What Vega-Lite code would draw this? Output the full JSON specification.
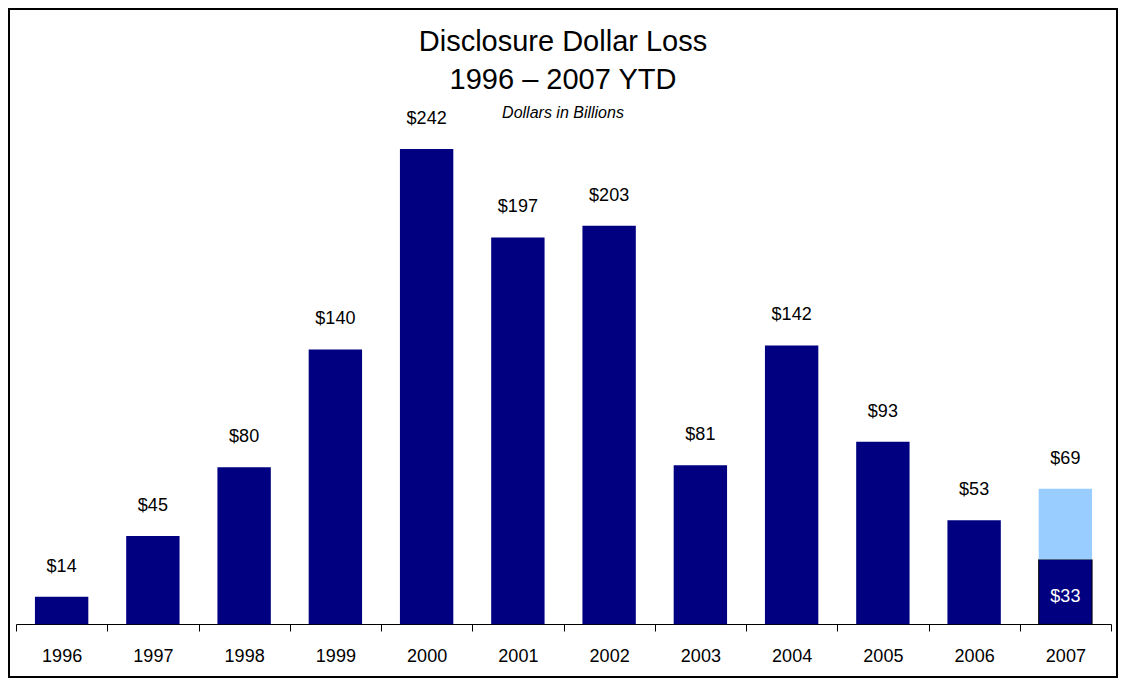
{
  "$schema": "https://vega.github.io/schema/vega-lite/v6.json",
  "width": 1108,
  "height": 668,
  "autosize": {"type": "none"},
  "padding": {"left": 9, "top": 9, "right": 4, "bottom": 4},
  "background": "white",
  "config": {
    "view": {"stroke": "black", "strokeWidth": 2},
    "font": "Liberation Sans"
  },
  "title": {
    "text": ["Disclosure Dollar Loss", "1996 – 2007 YTD"],
    "subtitle": "Dollars in Billions",
    "font": "Liberation Sans",
    "fontSize": 29,
    "fontWeight": "normal",
    "lineHeight": 38,
    "color": "black",
    "subtitleFont": "Liberation Sans",
    "subtitleFontSize": 16,
    "subtitleFontStyle": "italic",
    "subtitleColor": "black",
    "subtitlePadding": 10,
    "anchor": "middle",
    "frame": "group",
    "offset": -112
  },
  "datasets": {
    "bars": [
      {"year": "1996", "part": "base", "value": 14},
      {"year": "1997", "part": "base", "value": 45},
      {"year": "1998", "part": "base", "value": 80},
      {"year": "1999", "part": "base", "value": 140},
      {"year": "2000", "part": "base", "value": 242},
      {"year": "2001", "part": "base", "value": 197},
      {"year": "2002", "part": "base", "value": 203},
      {"year": "2003", "part": "base", "value": 81},
      {"year": "2004", "part": "base", "value": 142},
      {"year": "2005", "part": "base", "value": 93},
      {"year": "2006", "part": "base", "value": 53},
      {"year": "2007", "part": "base", "value": 33},
      {"year": "2007", "part": "top", "value": 36}
    ]
  },
  "data": {"name": "bars"},
  "encoding": {
    "x": {
      "field": "year",
      "type": "ordinal",
      "scale": {"range": [7, 1102], "paddingInner": 0, "paddingOuter": 0},
      "axis": {
        "title": null,
        "orient": "bottom",
        "offset": -53,
        "domainColor": "black",
        "domainWidth": 1,
        "tickColor": "black",
        "tickSize": 7,
        "tickBand": "extent",
        "labelFont": "Liberation Sans",
        "labelFontSize": 18,
        "labelColor": "black",
        "labelPadding": 16,
        "labelAngle": 0,
        "grid": false
      }
    }
  },
  "layer": [
    {
      "mark": {"type": "bar", "width": {"band": 0.585}},
      "encoding": {
        "y": {
          "field": "value",
          "type": "quantitative",
          "stack": "zero",
          "scale": {"domain": [-26.8, 313.3], "nice": false, "zero": false},
          "axis": null
        },
        "color": {
          "field": "part",
          "type": "nominal",
          "scale": {"domain": ["base", "top"], "range": ["#000080", "#99CCFF"]},
          "legend": null
        },
        "order": {"field": "part", "type": "nominal", "sort": "ascending"},
        "stroke": {
          "condition": {"test": "datum.year == '2007' && datum.part == 'base'", "value": "black"},
          "value": null
        }
      }
    },
    {
      "mark": {"type": "text", "baseline": "middle", "dy": -30, "fontSize": 18, "font": "Liberation Sans", "color": "black"},
      "encoding": {
        "y": {"aggregate": "sum", "field": "value", "type": "quantitative"},
        "text": {"aggregate": "sum", "field": "value", "type": "quantitative", "format": "$d"}
      }
    },
    {
      "transform": [{"filter": "datum.year == '2007' && datum.part == 'base'"}],
      "mark": {"type": "text", "baseline": "middle", "dy": 37, "fontSize": 18, "font": "Liberation Sans", "color": "white"},
      "encoding": {
        "y": {"field": "value", "type": "quantitative"},
        "text": {"field": "value", "type": "quantitative", "format": "$d"}
      }
    }
  ]
}
